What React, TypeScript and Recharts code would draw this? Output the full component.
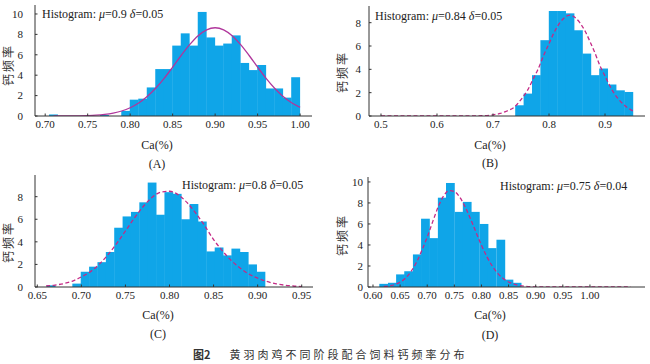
import React from "react";
import { ComposedChart, Bar, Line, XAxis, YAxis } from "recharts";

const FONT = '"Liberation Serif", "Times New Roman", serif';
const CJK = '"Noto Sans CJK SC", sans-serif';
const BAR = "#0fa5e8";
const SOLID = "#b0369c";
const DASH = "#c42a86";
const AXIS = "#333";
const TEXT = "#222";

// (A) mu=0.9
const aBinStarts = [0.705, 0.765, 0.79, 0.8, 0.81, 0.82, 0.83, 0.84, 0.85, 0.86, 0.87, 0.88, 0.89, 0.9, 0.91, 0.92, 0.93, 0.94, 0.95, 0.96, 0.97, 0.98, 0.99];
const aCounts = [0.15, 0.1, 0.5, 1.6, 1.7, 2.8, 4.6, 4.6, 6.9, 8.1, 6.9, 10.2, 7.7, 6.9, 7.1, 7.9, 5.2, 4.5, 5.0, 2.7, 2.7, 1.8, 3.8];
const aCurveX = [0.71, 0.72, 0.73, 0.74, 0.75, 0.76, 0.77, 0.78, 0.79, 0.8, 0.81, 0.82, 0.83, 0.84, 0.85, 0.86, 0.87, 0.88, 0.89, 0.9, 0.91, 0.92, 0.93, 0.94, 0.95, 0.96, 0.97, 0.98, 0.99, 1.0];
const aCurveY = [0, 0.01, 0.01, 0.02, 0.04, 0.08, 0.16, 0.29, 0.49, 0.81, 1.27, 1.91, 2.72, 3.69, 4.79, 5.93, 6.99, 7.87, 8.45, 8.65, 8.45, 7.87, 6.99, 5.93, 4.79, 3.69, 2.72, 1.91, 1.3, 0.85];
const aTicksX = [0.7, 0.75, 0.8, 0.85, 0.9, 0.95, 1.0];
const aTicksY = [0, 2, 4, 6, 8, 10];

// (B) mu=0.84
const bBinStarts = [0.74, 0.755, 0.77, 0.785, 0.8, 0.815, 0.83, 0.845, 0.86, 0.875, 0.89, 0.905, 0.92, 0.935];
const bCounts = [0.92, 1.92, 3.5, 6.5, 9.0, 9.0, 8.8, 7.35, 5.35, 3.5, 4.07, 2.7, 2.2, 2.06];
const bCurveX = [0.5, 0.55, 0.6, 0.65, 0.68, 0.7, 0.713, 0.725, 0.737, 0.75, 0.762, 0.772, 0.78, 0.79, 0.8, 0.808, 0.82, 0.8375, 0.855, 0.865, 0.873, 0.882, 0.891, 0.9, 0.9155, 0.93, 0.94, 0.948, 0.95];
const bCurveY = [0, 0, 0, 0, 0.02, 0.1, 0.22, 0.43, 0.72, 1.41, 2.24, 3.2, 3.96, 5.15, 6.2, 7.05, 8.04, 8.64, 8.0, 7.22, 6.4, 5.41, 4.3, 3.43, 2.0, 1.14, 0.72, 0.48, 0.43];
const bTicksX = [0.5, 0.6, 0.7, 0.8, 0.9];
const bTicksY = [0, 2, 4, 6, 8];

// (C) mu=0.8
const cBinStarts = [0.661, 0.69, 0.6995, 0.709, 0.7185, 0.728, 0.7375, 0.747, 0.7565, 0.766, 0.7755, 0.785, 0.7945, 0.804, 0.8135, 0.823, 0.8325, 0.842, 0.8515, 0.861, 0.8705, 0.88, 0.8895, 0.899];
const cCounts = [0.15, 0.3, 1.35, 1.8, 2.2, 3.1, 5.25, 6.25, 6.65, 7.5, 9.25, 6.4, 8.4, 8.25, 6.0, 7.35, 5.8, 3.15, 3.5, 2.8, 3.4, 3.1, 2.0, 1.35];
const cCurveX = [0.66, 0.67, 0.68, 0.69, 0.7, 0.71, 0.72, 0.73, 0.74, 0.75, 0.76, 0.77, 0.78, 0.79, 0.8, 0.81, 0.82, 0.83, 0.84, 0.85, 0.86, 0.87, 0.88, 0.89, 0.9, 0.91, 0.92, 0.93, 0.94, 0.95];
const cCurveY = [0.09, 0.17, 0.3, 0.52, 0.9, 1.34, 2.0, 2.84, 3.85, 4.96, 6.09, 7.11, 7.92, 8.4, 8.48, 8.16, 7.47, 6.52, 5.42, 4.2, 3.2, 2.35, 1.68, 1.15, 0.78, 0.5, 0.3, 0.17, 0.09, 0.04];
const cTicksX = [0.65, 0.7, 0.75, 0.8, 0.85, 0.9, 0.95];
const cTicksY = [0, 2, 4, 6, 8];

// (D) mu=0.75
const dBinStarts = [0.612, 0.628, 0.643, 0.658, 0.674, 0.689, 0.704, 0.72, 0.735, 0.751, 0.766, 0.781, 0.797, 0.812, 0.828, 0.843, 0.858];
const dCounts = [0.3, 0.4, 1.2, 1.5, 3.1, 6.5, 4.65, 8.5, 9.9, 7.15, 8.1, 7.15, 6.0, 3.7, 4.5, 0.7, 0.4];
const dCurveX = [0.62, 0.63, 0.64, 0.65, 0.66, 0.67, 0.68, 0.69, 0.7, 0.71, 0.72, 0.73, 0.74, 0.75, 0.76, 0.77, 0.78, 0.79, 0.8, 0.81, 0.82, 0.83, 0.84, 0.85, 0.86, 0.87, 0.88, 0.89, 0.9, 0.95, 1.0, 1.075];
const dCurveY = [0.05, 0.11, 0.23, 0.46, 0.85, 1.46, 2.33, 3.48, 4.75, 6.2, 7.6, 8.65, 9.17, 9.08, 8.54, 7.62, 6.46, 5.2, 3.97, 2.88, 1.99, 1.3, 0.81, 0.48, 0.27, 0.14, 0.07, 0.03, 0.01, 0, 0, 0];
const dTicksX = [0.6, 0.65, 0.7, 0.75, 0.8, 0.85, 0.9, 0.95, 1.0];
const dTicksY = [0, 2, 4, 6, 8, 10];

type Box = { left: number; top: number; w: number; h: number };
type Plot = { l: number; r: number; t: number; b: number };

function XTick(props: any) {
  const { x, y, payload, digits } = props;
  return (
    <g>
      <line x1={x} x2={x} y1={y - 4} y2={y - 6.5} stroke={AXIS} />
      <text x={x} y={y} dy="0.71em" textAnchor="middle" fontSize={11} fontFamily={FONT} fill={TEXT}>
        {Number(payload.value).toFixed(digits)}
      </text>
    </g>
  );
}

function YTick(props: any) {
  const { x, y, payload, gap } = props;
  return (
    <g>
      <line x1={x + gap} x2={x + gap + 2.5} y1={y} y2={y} stroke={AXIS} />
      <text x={x} y={y} dy="0.35em" textAnchor="end" fontSize={11} fontFamily={FONT} fill={TEXT}>
        {payload.value}
      </text>
    </g>
  );
}

type PanelProps = {
  box: Box;
  plot: Plot;
  xDomain: [number, number];
  yMax: number;
  xTicks: number[];
  yTicks: number[];
  digits: number;
  yGap: number;
  binStarts: number[];
  counts: number[];
  binWidth: number;
  curveX: number[];
  curveY: number[];
  dashed: boolean;
};

function Panel(p: PanelProps) {
  const bars = p.binStarts.map((s, i) => ({ x: s + p.binWidth / 2, count: p.counts[i] }));
  const curve = p.curveX.map((x, i) => ({ x, y: p.curveY[i] }));
  const plotW = p.plot.r - p.plot.l;
  // histogram bin width in pixels, bars stay centred where the x scale puts them
  const binPx = (plotW * p.binWidth) / (p.xDomain[1] - p.xDomain[0]);
  const binShape = (s: any) => {
    if (!s.height) return <g />;
    const cx = s.x + s.width / 2;
    return <rect x={cx - binPx / 2 - 0.2} y={s.y} width={binPx + 0.4} height={s.height} fill={BAR} />;
  };
  return (
    <div style={{ position: "absolute", left: p.box.left, top: p.box.top }}>
      <ComposedChart
        width={p.box.w}
        height={p.box.h}
        data={bars}
        margin={{ top: p.plot.t - p.box.top, right: p.box.left + p.box.w - p.plot.r, left: 0, bottom: 0 }}
      >
        <XAxis
          type="number"
          dataKey="x"
          domain={p.xDomain}
          ticks={p.xTicks}
          allowDataOverflow
          interval={0}
          height={p.box.top + p.box.h - p.plot.b}
          tickSize={0}
          tickMargin={4}
          stroke={AXIS}
          tick={(t: any) => <XTick {...t} digits={p.digits} />}
        />
        <YAxis
          type="number"
          domain={[0, p.yMax]}
          ticks={p.yTicks}
          allowDataOverflow
          interval={0}
          width={p.plot.l - p.box.left}
          tickSize={0}
          tickMargin={p.yGap}
          stroke={AXIS}
          tick={(t: any) => <YTick {...t} gap={p.yGap} />}
        />
        <Bar dataKey="count" fill={BAR} shape={binShape} isAnimationActive={false} />
        <Line
          data={curve}
          dataKey="y"
          type="monotone"
          stroke={p.dashed ? DASH : SOLID}
          strokeWidth={1.3}
          strokeDasharray={p.dashed ? "4 2.5" : undefined}
          dot={false}
          activeDot={false}
          isAnimationActive={false}
        />
      </ComposedChart>
    </div>
  );
}

const abs = (left: number, top: number, extra: React.CSSProperties = {}): React.CSSProperties => ({
  position: "absolute",
  left,
  top,
  whiteSpace: "nowrap",
  color: TEXT,
  ...extra,
});

function Hist({ x, y, mu, d }: { x: number; y: number; mu: string; d: string }) {
  return (
    <div style={abs(x, y - 7, { fontFamily: FONT, fontSize: 12, lineHeight: "14px" })}>
      Histogram: <i>μ</i>={mu} <i>δ</i>={d}
    </div>
  );
}

function Centered({ x, y, children, size = 12 }: { x: number; y: number; children: React.ReactNode; size?: number }) {
  return (
    <div style={abs(x - 40, y - 7, { width: 80, textAlign: "center", fontFamily: FONT, fontSize: size, lineHeight: "14px" })}>
      {children}
    </div>
  );
}

function YLabel({ x, y }: { x: number; y: number }) {
  return (
    <div
      style={abs(x, y, {
        fontFamily: CJK,
        fontSize: 12,
        letterSpacing: 2,
        lineHeight: "12px",
        transform: "translate(-50%, -50%) rotate(-90deg)",
        color: "#333",
      })}
    >
      钙频率
    </div>
  );
}

export default function App() {
  return (
    <div style={{ position: "absolute", left: 0, top: 0, width: 650, height: 364, background: "#fff", overflow: "hidden" }}>
      <Panel
        box={{ left: 0, top: 0, w: 325, h: 132 }}
        plot={{ l: 35, r: 312, t: 5, b: 116 }}
        xDomain={[0.688, 1.014]}
        yMax={10.88}
        xTicks={aTicksX}
        yTicks={aTicksY}
        digits={2}
        yGap={12}
        binStarts={aBinStarts}
        counts={aCounts}
        binWidth={0.01}
        curveX={aCurveX}
        curveY={aCurveY}
        dashed={false}
      />
      <Panel
        box={{ left: 325, top: 0, w: 325, h: 132 }}
        plot={{ l: 369, r: 645, t: 6, b: 116 }}
        xDomain={[0.4786, 0.9714]}
        yMax={9.43}
        xTicks={bTicksX}
        yTicks={bTicksY}
        digits={1}
        yGap={8}
        binStarts={bBinStarts}
        counts={bCounts}
        binWidth={0.015}
        curveX={bCurveX}
        curveY={bCurveY}
        dashed={true}
      />
      <Panel
        box={{ left: 0, top: 168, w: 325, h: 134 }}
        plot={{ l: 35, r: 313, t: 175, b: 287 }}
        xDomain={[0.6474, 0.9628]}
        yMax={9.92}
        xTicks={cTicksX}
        yTicks={cTicksY}
        digits={2}
        yGap={12}
        binStarts={cBinStarts}
        counts={cCounts}
        binWidth={0.0095}
        curveX={cCurveX}
        curveY={cCurveY}
        dashed={true}
      />
      <Panel
        box={{ left: 325, top: 168, w: 325, h: 134 }}
        plot={{ l: 368, r: 645, t: 177, b: 287 }}
        xDomain={[0.5908, 1.1015]}
        yMax={10.47}
        xTicks={dTicksX}
        yTicks={dTicksY}
        digits={2}
        yGap={5}
        binStarts={dBinStarts}
        counts={dCounts}
        binWidth={0.0154}
        curveX={dCurveX}
        curveY={dCurveY}
        dashed={true}
      />

      <Hist x={42} y={14} mu="0.9" d="0.05" />
      <Hist x={375} y={16} mu="0.84" d="0.05" />
      <Hist x={182} y={185} mu="0.8" d="0.05" />
      <Hist x={500} y={186} mu="0.75" d="0.04" />

      <YLabel x={8} y={65} />
      <YLabel x={342} y={72} />
      <YLabel x={8} y={242} />
      <YLabel x={342} y={235} />

      <Centered x={157} y={145}>Ca(%)</Centered>
      <Centered x={157} y={164}>(A)</Centered>
      <Centered x={490} y={145}>Ca(%)</Centered>
      <Centered x={490} y={163}>(B)</Centered>
      <Centered x={158} y={315}>Ca(%)</Centered>
      <Centered x={158} y={334}>(C)</Centered>
      <Centered x={490} y={315}>Ca(%)</Centered>
      <Centered x={490} y={335}>(D)</Centered>

      <div style={abs(193, 347, { fontFamily: CJK, fontSize: 11, lineHeight: "14px", color: "#333" })}>
        <b>图2</b>
        <span style={{ marginLeft: 19, letterSpacing: 3 }}>黄羽肉鸡不同阶段配合饲料钙频率分布</span>
      </div>
    </div>
  );
}
